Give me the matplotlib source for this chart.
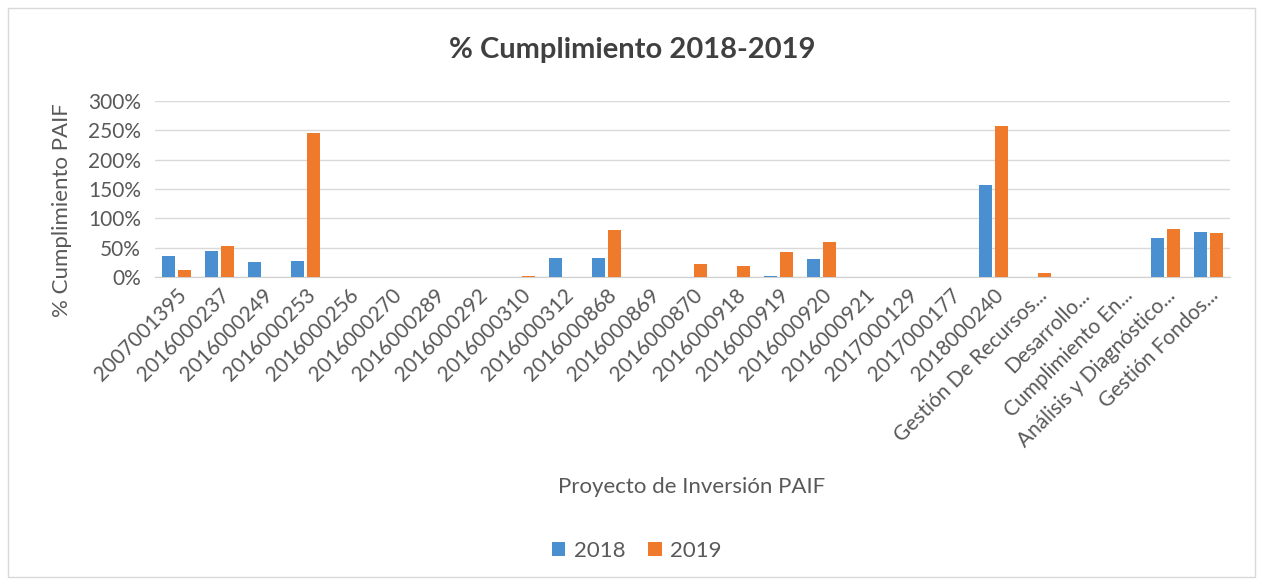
import numpy as np
import matplotlib.pyplot as plt
from matplotlib.patches import Rectangle
from matplotlib.ticker import PercentFormatter

plt.rcParams['font.family'] = ['Lato', 'DejaVu Sans']

projects = [
    "2007001395", "2016000237", "2016000249", "2016000253", "2016000256",
    "2016000270", "2016000289", "2016000292", "2016000310", "2016000312",
    "2016000868", "2016000869", "2016000870", "2016000918", "2016000919",
    "2016000920", "2016000921", "2017000129", "2017000177", "2018000240",
    "Gestión De Recursos...", "Desarrollo...", "Cumplimiento En...",
    "Análisis y Diagnóstico...", "Gestión Fondos...",
]
pct_2018 = [35, 44, 26, 28, 0, 0, 0, 0, 0, 33, 33, 0, 0, 0, 1, 31, 0, 0, 0, 156,
            0, 0, 0, 67, 76]
pct_2019 = [12, 52, 0, 246, 0, 0, 0, 0, 1, 0, 80, 0, 23, 19, 42, 60, 0, 0, 0, 258,
            6, 0, 0, 82, 75]

text_col = "#595959"
W, H = 1263, 585
fig = plt.figure(figsize=(W / 100, H / 100), dpi=100)
fig.patches.append(Rectangle((8 / W, 8 / H), 1247 / W, 569 / H,
                             transform=fig.transFigure, fill=False,
                             edgecolor="#d9d9d9", linewidth=1))

ax = fig.add_axes([155 / W, 1 - 277 / H, 1075 / W, 176 / H])
x = np.arange(len(projects))
ax.bar(x - 0.193, pct_2018, width=0.30, color="#4A8FD0", label="2018", zorder=3)
ax.bar(x + 0.193, pct_2019, width=0.30, color="#EF7A2B", label="2019", zorder=3)

ax.set_xlim(-0.5, len(projects) - 0.5)
ax.set_ylim(0, 300)
ax.set_yticks(np.arange(0, 301, 50))
ax.yaxis.set_major_formatter(PercentFormatter(decimals=0))
ax.grid(axis="y", color="#d9d9d9", linewidth=1, zorder=0)
for s in ["top", "right", "left"]:
    ax.spines[s].set_visible(False)
ax.spines["bottom"].set_color("#d0d0d0")
ax.tick_params(axis="y", length=0, colors=text_col, labelsize=15, pad=10)
ax.tick_params(axis="x", length=0, colors=text_col, labelsize=15, pad=6)
ax.set_xticks(x)
ax.set_xticklabels(projects, rotation=45, ha="right", rotation_mode="anchor")

fig.text(62 / W, 1 - 210 / H, "% Cumplimiento PAIF", rotation=90,
         ha="center", va="center", fontsize=16, color=text_col)
fig.text(692 / W, 1 - 487 / H, "Proyecto de Inversión PAIF",
         ha="center", va="center", fontsize=16, color=text_col)
fig.text(632 / W, 1 - 50 / H, "% Cumplimiento 2018-2019",
         ha="center", va="center", fontsize=21, fontweight="bold", color="#404040")

fig.legend(loc="center", bbox_to_anchor=(637 / W, 1 - 551 / H), ncol=2,
           frameon=False, fontsize=16, handlelength=0.6, handleheight=0.6,
           handletextpad=0.4, columnspacing=1.0, labelcolor=text_col)

fig.savefig("out.png", dpi=100)
